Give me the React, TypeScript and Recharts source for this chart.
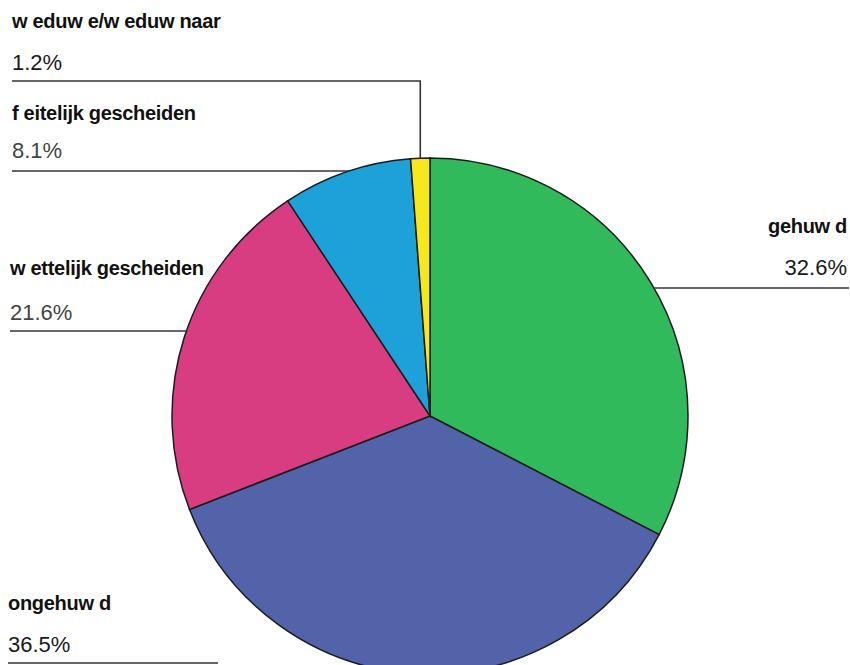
import { Cell, Pie, PieChart } from 'recharts';

// burgerlijke staat — aandeel per categorie (%)
const categories = [
  'gehuw d',
  'ongehuw d',
  'w ettelijk gescheiden',
  'f eitelijk gescheiden',
  'w eduw e/w eduw naar',
];
const shares = [32.6, 36.5, 21.6, 8.1, 1.2];
const shareLabels = ['32.6%', '36.5%', '21.6%', '8.1%', '1.2%'];
const colors = ['#31ba5c', '#5263a9', '#d73d80', '#1ea0d9', '#f6e81c'];

const data = categories.map((name, i) => ({ name, value: shares[i] }));

// where each label sits and how its leader line runs
const labelLayout = [
  { anchor: 'end', x: 847, nameY: 233, valueY: 275, lineY: 288, lineX: 849, kind: 'arc', valueColor: '#1a1a1a' },
  { anchor: 'start', x: 8, nameY: 610, valueY: 652, lineY: 663, lineX: 8, kind: 'short', lineEnd: 218, valueColor: '#1a1a1a' },
  { anchor: 'start', x: 10, nameY: 275, valueY: 320, lineY: 331, lineX: 10, kind: 'arc', valueColor: '#444' },
  { anchor: 'start', x: 12, nameY: 120, valueY: 158, lineY: 171, lineX: 12, kind: 'arc', valueColor: '#444' },
  { anchor: 'start', x: 12, nameY: 28, valueY: 70, lineY: 81, lineX: 12, kind: 'elbow', valueColor: '#1a1a1a' },
];

const RADIAN = Math.PI / 180;

function renderLabel(props: any) {
  const { cx, cy, midAngle, outerRadius, index } = props;
  const l = labelLayout[index];
  let points = '';
  if (l.kind === 'arc') {
    const dy = l.lineY - cy;
    const dx = Math.sqrt(Math.max(outerRadius * outerRadius - dy * dy, 0));
    const ex = l.anchor === 'start' ? cx - dx : cx + dx;
    points = `${l.lineX},${l.lineY} ${ex},${l.lineY}`;
  } else if (l.kind === 'elbow') {
    const px = cx + outerRadius * Math.cos(-midAngle * RADIAN);
    const py = cy + outerRadius * Math.sin(-midAngle * RADIAN);
    points = `${l.lineX},${l.lineY} ${px},${l.lineY} ${px},${py}`;
  } else {
    points = `${l.lineX},${l.lineY} ${l.lineEnd},${l.lineY}`;
  }
  return (
    <g key={`lbl-${index}`}>
      <polyline points={points} fill="none" stroke="#333" strokeWidth={1.6} />
      <text
        x={l.x}
        y={l.nameY}
        textAnchor={l.anchor}
        fontSize={20}
        fontWeight="bold"
        letterSpacing={-0.3}
        fill="#111"
        fontFamily="'Liberation Sans', Arial, sans-serif"
      >
        {categories[index]}
      </text>
      <text
        x={l.x}
        y={l.valueY}
        textAnchor={l.anchor}
        fontSize={22}
        fontWeight={500}
        fill={l.valueColor}
        fontFamily="'Liberation Sans', Arial, sans-serif"
      >
        {shareLabels[index]}
      </text>
    </g>
  );
}

export default function App() {
  return (
    <div style={{ position: 'absolute', left: 0, top: 0, background: '#fff' }}>
      <PieChart width={850} height={665} margin={{ top: 0, right: 0, bottom: 0, left: 0 }}>
        <Pie
          data={data}
          dataKey="value"
          nameKey="name"
          cx={430}
          cy={416}
          outerRadius={258}
          startAngle={90}
          endAngle={-270}
          stroke="#1c1c1c"
          strokeWidth={1.5}
          label={renderLabel}
          labelLine={false}
          isAnimationActive={false}
        >
          {data.map((d, i) => (
            <Cell key={d.name} fill={colors[i]} />
          ))}
        </Pie>
      </PieChart>
    </div>
  );
}
